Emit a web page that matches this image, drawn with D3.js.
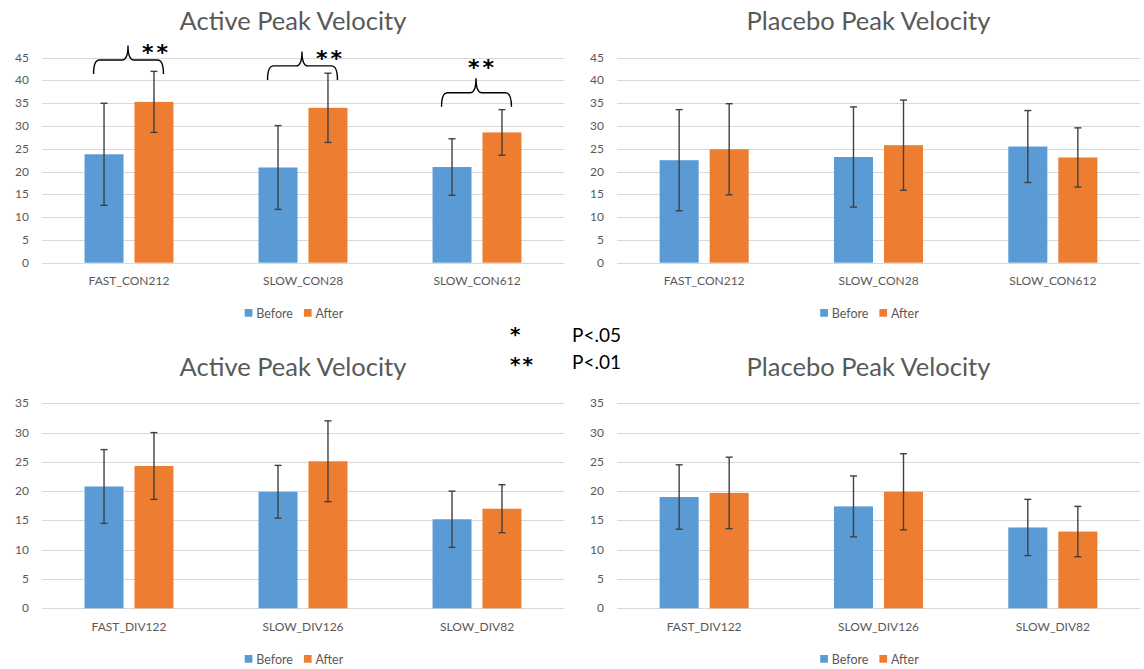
<!DOCTYPE html>
<html>
  <head>
    <meta charset="UTF-8">
    <title></title>
    <style>
    body { margin: 0; background: #fff; }
    svg { display: block; font-family: Lato, "Open Sans", sans-serif; }
    .grid line { stroke: #d9d9d9; stroke-width: 1; }
    .tick-label, .cat-label, .legend-label { fill: #595959; font-size: 12px; }
    .legend-label { font-size: 12.5px; }
    .title { fill: #595959; font-size: 25.5px; }
    .err { stroke: #404040; stroke-width: 1.4; }
    .brace { fill: none; stroke: #000; stroke-width: 1.4; }
    .stars, .pval { fill: #000; }
    .stars { font-family: "DejaVu Sans", sans-serif; font-weight: bold; font-size: 22px; letter-spacing: 3px; }
    </style>
  </head>
  <body>
    <svg id="chart" width="1144" height="669"></svg>
  </body>
  <script src="https://cdn.jsdelivr.net/npm/d3@7"></script>
  <script>
  // categories
  var conCats = ["FAST_CON212", "SLOW_CON28", "SLOW_CON612"];
  var divCats = ["FAST_DIV122", "SLOW_DIV126", "SLOW_DIV82"];
  var seriesNames = ["Before", "After"];

  // active / placebo, CON conditions
  var activeConBefore = [23.8, 20.9, 21.0];
  var activeConBeforeErr = [11.2, 9.2, 6.2];
  var activeConAfter = [35.3, 34.0, 28.6];
  var activeConAfterErr = [6.7, 7.6, 5.0];

  var placeboConBefore = [22.5, 23.2, 25.5];
  var placeboConBeforeErr = [11.1, 11.0, 7.9];
  var placeboConAfter = [24.9, 25.8, 23.1];
  var placeboConAfterErr = [10.0, 9.9, 6.5];

  // active / placebo, DIV conditions
  var activeDivBefore = [20.8, 19.9, 15.2];
  var activeDivBeforeErr = [6.3, 4.5, 4.8];
  var activeDivAfter = [24.3, 25.1, 17.0];
  var activeDivAfterErr = [5.7, 6.9, 4.1];

  var placeboDivBefore = [19.0, 17.4, 13.8];
  var placeboDivBeforeErr = [5.5, 5.2, 4.8];
  var placeboDivAfter = [19.7, 19.9, 13.1];
  var placeboDivAfterErr = [6.1, 6.5, 4.3];

  // significance brackets on the active CON chart (level in data units)
  var braceLevels = [44.5, 43.2, 37.3];
  var braceLabels = ["**", "**", "**"];

  var yTicksTop = [0, 5, 10, 15, 20, 25, 30, 35, 40, 45];
  var yTicksBottom = [0, 5, 10, 15, 20, 25, 30, 35];

  var colors = ["#5b9bd5", "#ed7d31"];

  var svg = d3.select("svg#chart");

  var panels = [
    { title: "Active Peak Velocity", cats: conCats, ticks: yTicksTop,
      before: activeConBefore, beforeErr: activeConBeforeErr, after: activeConAfter, afterErr: activeConAfterErr,
      x0: 42, x1: 564, yb: 262.7, yt: 57.7, titleY: 30, catY: 285, legY: 313, braces: true },
    { title: "Placebo Peak Velocity", cats: conCats, ticks: yTicksTop,
      before: placeboConBefore, beforeErr: placeboConBeforeErr, after: placeboConAfter, afterErr: placeboConAfterErr,
      x0: 617, x1: 1140, yb: 262.7, yt: 57.7, titleY: 30, catY: 285, legY: 313 },
    { title: "Active Peak Velocity", cats: divCats, ticks: yTicksBottom,
      before: activeDivBefore, beforeErr: activeDivBeforeErr, after: activeDivAfter, afterErr: activeDivAfterErr,
      x0: 42, x1: 564, yb: 608.3, yt: 403.3, titleY: 376, catY: 631, legY: 659 },
    { title: "Placebo Peak Velocity", cats: divCats, ticks: yTicksBottom,
      before: placeboDivBefore, beforeErr: placeboDivBeforeErr, after: placeboDivAfter, afterErr: placeboDivAfterErr,
      x0: 617, x1: 1140, yb: 608.3, yt: 403.3, titleY: 376, catY: 631, legY: 659 }
  ];

  panels.forEach(drawPanel);

  function drawPanel(p) {
    var g = svg.append("g");
    var ymax = p.ticks[p.ticks.length - 1];
    var y = d3.scaleLinear().domain([0, ymax]).range([p.yb, p.yt]);
    var x = d3.scaleBand().domain(p.cats).range([p.x0, p.x1]).padding(0);
    var bw = x.bandwidth();
    var barW = bw * 0.224, gap = bw * 0.063;
    var sub = d3.scaleOrdinal().domain(seriesNames).range([-gap / 2 - barW, gap / 2]);
    var center = (p.x0 + p.x1) / 2 - 10;

    // gridlines
    g.append("g").attr("class", "grid")
      .selectAll("line").data(p.ticks).enter().append("line")
      .attr("x1", p.x0).attr("x2", p.x1)
      .attr("y1", function(d) { return Math.round(y(d)) + 0.5; })
      .attr("y2", function(d) { return Math.round(y(d)) + 0.5; });

    g.selectAll(".tick-label").data(p.ticks).enter().append("text")
      .attr("class", "tick-label")
      .attr("x", p.x0 - 13)
      .attr("y", function(d) { return y(d) + 4; })
      .attr("text-anchor", "end")
      .text(function(d) { return d; });

    g.append("text").attr("class", "title")
      .attr("x", center).attr("y", p.titleY)
      .attr("text-anchor", "middle").text(p.title);

    var rows = [];
    p.cats.forEach(function(c, i) {
      rows.push({ cat: c, s: "Before", v: p.before[i], e: p.beforeErr[i] });
      rows.push({ cat: c, s: "After", v: p.after[i], e: p.afterErr[i] });
    });

    g.selectAll(".bar").data(rows).enter().append("rect")
      .attr("class", "bar")
      .attr("x", function(d) { return x(d.cat) + bw / 2 + sub(d.s); })
      .attr("width", barW)
      .attr("y", function(d) { return y(d.v); })
      .attr("height", function(d) { return y(0) - y(d.v); })
      .style("fill", function(d) { return d.s == "Before" ? colors[0] : colors[1]; });

    var err = g.selectAll(".errbar").data(rows).enter().append("g").attr("class", "errbar");
    var cx = function(d) { return x(d.cat) + bw / 2 + sub(d.s) + barW / 2; };
    err.append("line").attr("class", "err")
      .attr("x1", cx).attr("x2", cx)
      .attr("y1", function(d) { return y(d.v + d.e); })
      .attr("y2", function(d) { return y(d.v - d.e); });
    [1, -1].forEach(function(sign) {
      err.append("line").attr("class", "err")
        .attr("x1", function(d) { return cx(d) - 3.5; })
        .attr("x2", function(d) { return cx(d) + 3.5; })
        .attr("y1", function(d) { return y(d.v + sign * d.e); })
        .attr("y2", function(d) { return y(d.v + sign * d.e); });
    });

    g.selectAll(".cat-label").data(p.cats).enter().append("text")
      .attr("class", "cat-label")
      .attr("x", function(d) { return x(d) + bw / 2; })
      .attr("y", p.catY)
      .attr("text-anchor", "middle")
      .text(function(d) { return d; });

    // legend
    var leg = g.append("g");
    var lx = 0;
    seriesNames.forEach(function(s, i) {
      leg.append("rect").attr("x", lx).attr("y", -4).attr("width", 7.7).attr("height", 7.7)
        .style("fill", colors[i]);
      var t = leg.append("text").attr("class", "legend-label")
        .attr("x", lx + 11.5).attr("y", 4.5).text(s);
      lx += 11.5 + t.node().getComputedTextLength() + 11;
    });
    lx -= 11;
    leg.attr("transform", "translate(" + (center - lx / 2 + 1) + "," + p.legY + ")");

    if (p.braces) {
      p.cats.forEach(function(c, i) {
        var xa = x(c) + bw / 2 + sub("Before") + 9;
        var xb = x(c) + bw / 2 + sub("After") + barW - 10;
        var xm = x(c) + bw / 2 - 1;
        var yh = y(braceLevels[i]);
        var d = 14, h = 14.5, r = 6;
        var path = d3.path();
        path.moveTo(xa, yh + d);
        path.quadraticCurveTo(xa, yh, xa + r, yh);
        path.lineTo(xm - r, yh);
        path.quadraticCurveTo(xm, yh, xm, yh - h);
        path.quadraticCurveTo(xm, yh, xm + r, yh);
        path.lineTo(xb - r, yh);
        path.quadraticCurveTo(xb, yh, xb, yh + d);
        g.append("path").attr("class", "brace").attr("d", path.toString());

        var last = i == p.cats.length - 1;
        g.append("text").attr("class", "stars")
          .attr("x", last ? xm + 6.5 : xm + 28.5)
          .attr("y", last ? yh - 17.7 : yh + 0.3)
          .attr("text-anchor", "middle")
          .text(braceLabels[i]);
      });
    }
  }

  // p-value key
  var keyStars = ["*", "**"];
  var keyLabels = ["P<.05", "P<.01"];
  keyStars.forEach(function(s, i) {
    svg.append("text").attr("class", "stars")
      .attr("x", 510).attr("y", 341 + i * 30)
      .style("font-size", "20px").style("letter-spacing", "2px").text(s);
    svg.append("text").attr("class", "pval")
      .attr("x", 572).attr("y", 341.7 + i * 27.6)
      .style("font-size", "19px").text(keyLabels[i]);
  });
  </script>
</html>
